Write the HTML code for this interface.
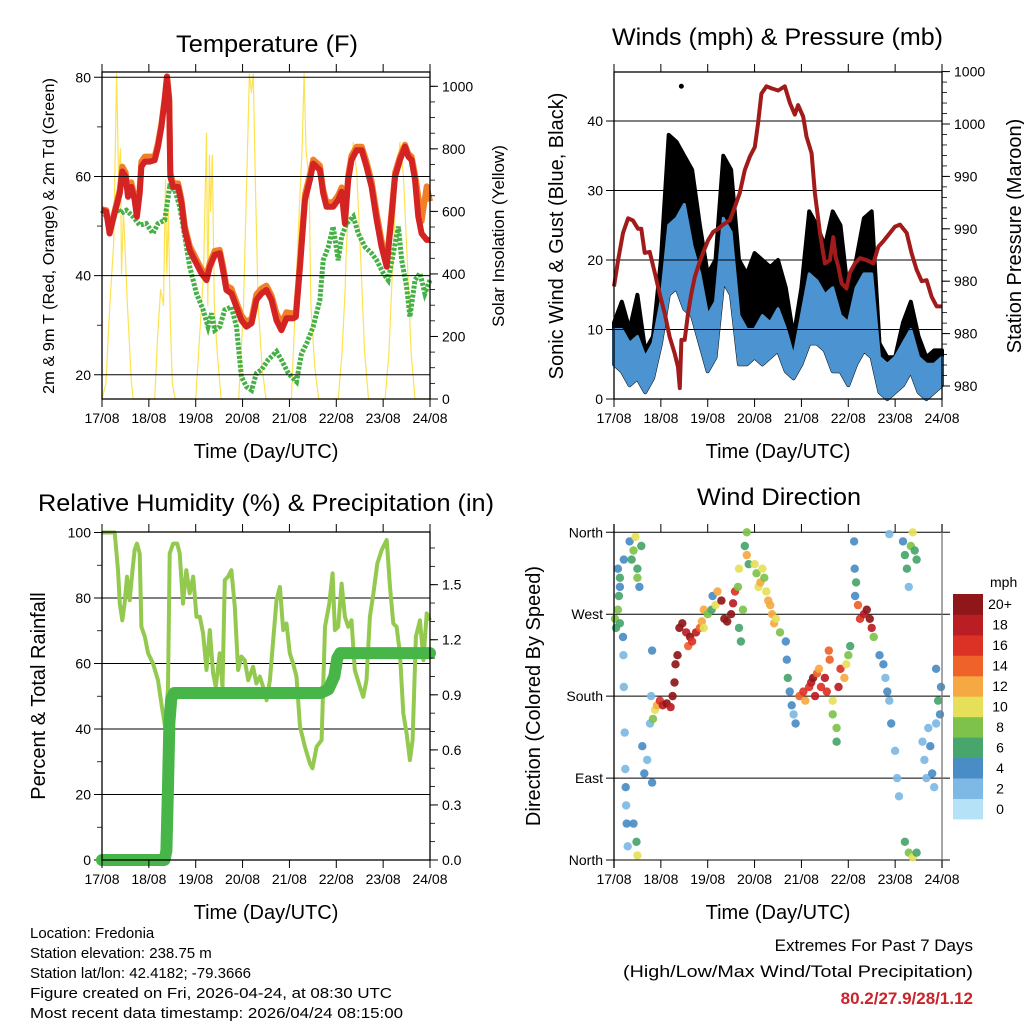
<!DOCTYPE html>
<html><head><meta charset="utf-8"><style>
html,body{margin:0;padding:0;background:#fff;}
svg{display:block;font-family:"Liberation Sans",Arial,sans-serif;}
</style></head><body>
<svg id="chart" xmlns="http://www.w3.org/2000/svg" width="1024" height="1024" viewBox="0 0 1024 1024">
<rect x="0" y="0" width="1024" height="1024" fill="#fff"/>
<g id="layer"></g>
<text x="176" y="52" font-size="24" textLength="182" lengthAdjust="spacingAndGlyphs">Temperature (F)</text>
<text x="612" y="45" font-size="24" textLength="331" lengthAdjust="spacingAndGlyphs">Winds (mph) &amp; Pressure (mb)</text>
<text x="38" y="511" font-size="24" textLength="456" lengthAdjust="spacingAndGlyphs">Relative Humidity (%) &amp; Precipitation (in)</text>
<text x="697" y="505" font-size="24" textLength="164" lengthAdjust="spacingAndGlyphs">Wind Direction</text>

<text x="266" y="458" font-size="20" text-anchor="middle">Time (Day/UTC)</text>
<text x="778" y="458" font-size="20" text-anchor="middle">Time (Day/UTC)</text>
<text x="266" y="919" font-size="20" text-anchor="middle">Time (Day/UTC)</text>
<text x="778" y="919" font-size="20" text-anchor="middle">Time (Day/UTC)</text>

<text transform="translate(54,236) rotate(-90)" font-size="16" text-anchor="middle" textLength="316" lengthAdjust="spacingAndGlyphs">2m &amp; 9m T (Red, Orange) &amp; 2m Td (Green)</text>
<text transform="translate(504,236) rotate(-90)" font-size="17" text-anchor="middle">Solar Insolation (Yellow)</text>
<text transform="translate(563,236) rotate(-90)" font-size="20" text-anchor="middle">Sonic Wind &amp; Gust (Blue, Black)</text>
<text transform="translate(1021,236) rotate(-90)" font-size="20" text-anchor="middle">Station Pressure (Maroon)</text>
<text transform="translate(45,696) rotate(-90)" font-size="20" text-anchor="middle">Percent &amp; Total Rainfall</text>
<text transform="translate(540,696) rotate(-90)" font-size="20" text-anchor="middle">Direction (Colored By Speed)</text>

<g font-size="15">
<text x="30" y="938">Location: Fredonia</text>
<text x="30" y="958">Station elevation: 238.75 m</text>
<text x="30" y="978">Station lat/lon: 42.4182; -79.3666</text>
<text x="30" y="998" textLength="362" lengthAdjust="spacingAndGlyphs">Figure created on Fri, 2026-04-24, at 08:30 UTC</text>
<text x="30" y="1018" textLength="373" lengthAdjust="spacingAndGlyphs">Most recent data timestamp: 2026/04/24 08:15:00</text>
</g>
<g font-size="17" text-anchor="end">
<text x="973" y="951">Extremes For Past 7 Days</text>
<text x="973" y="977" textLength="350" lengthAdjust="spacingAndGlyphs">(High/Low/Max Wind/Total Precipitation)</text>
<text x="973" y="1004" fill="#c8242b" font-weight="bold">80.2/27.9/28/1.12</text>
</g>
</svg>
<script>
// ---------- data ----------
const dayLabels = ["17/08","18/08","19/08","20/08","21/08","22/08","23/08","24/08"];
const tempHours = [0,2.2,3.9,5.6,7.3,9.1,10.4,12.1,13.3,15.0,16.7,17.9,19.3,20.2,21.9,24.4,27.0,28.7,30.4,32.1,33.3,34.4,35.0,36.4,39.0,40.7,42.4,44.9,47.5,50.9,53.5,55.2,57.8,60.3,62.0,63.7,66.3,68.9,71.4,74.0,76.6,79.1,81.7,84.2,86.8,89.4,91.9,94.5,98.0,99.3,101.4,104.0,106.5,108.2,111.6,113.3,115.0,118.4,121.0,122.7,124.4,126.1,127.8,130.4,133.0,135.5,138.1,140.7,143.2,145.8,148.3,150.1,152.6,155.2,156.9,158.6,160.3,162.0,163.7,166.3,168];
const tempRed = [53.2,52.9,48.5,51.2,53.9,56.6,61.0,60.0,55.9,57.9,55.3,51.9,56.6,62.0,63.0,63.0,63.3,66.0,70.0,75.4,80.1,75.4,60.0,57.9,57.9,54.6,49.2,45.2,43.1,40.5,39.1,41.8,44.2,44.5,41.1,37.1,36.4,33.7,31.0,29.7,30.4,35.1,36.4,37.1,35.1,31.0,29.0,31.4,31.4,31.7,41.8,55.3,59.3,62.6,61.3,56.6,53.9,53.9,55.3,56.9,50.5,59.3,63.3,65.3,65.3,62.0,57.9,51.2,45.8,41.8,51.9,60.0,63.3,66.0,64.0,63.3,59.3,51.9,48.5,47.2,47.2];
const tempOrange = [53.4,53.2,48.9,51.6,54.4,57.4,62.0,60.8,56.8,58.8,56.0,52.6,57.6,63.0,64.0,64.0,64.0,66.8,70.6,75.8,80.2,75.8,60.8,58.6,58.6,55.4,50.0,46.0,44.0,41.4,40.0,42.6,45.0,45.2,42.0,38.0,37.4,34.6,32.0,30.6,31.4,36.2,37.4,38.0,36.0,32.4,30.4,32.6,32.4,32.6,43.0,56.4,60.4,63.4,62.2,57.4,54.8,54.8,56.2,57.8,51.6,60.2,64.2,66.0,66.0,63.0,59.0,52.6,47.0,42.8,52.8,60.8,64.0,66.4,64.6,64.0,60.4,56.0,51.0,58.0,55.0];
const dewHours = [0,2.2,3.9,5.6,7.3,9.9,12.5,15.9,19.3,22.7,26.1,28.7,32.1,34.7,37.3,39.8,42.4,44.9,48.4,51.8,54.3,56.1,57.8,60.3,62.9,66.3,68.9,71.4,74.0,76.6,79.1,81.7,85.1,89.4,91.9,95.4,99.6,102.2,104.8,108.2,111.6,113.3,115.9,118.4,121.0,122.7,125.3,128.7,131.3,134.7,138.1,140.7,144.1,146.6,149.2,151.8,153.5,156.0,157.7,160.3,162.9,165.4,168];
const dewPoint = [53.2,51.9,49.2,51.9,53.9,52.6,53.2,51.9,50.2,50.5,48.5,50.5,51.2,57.9,57.3,53.9,47.9,41.8,36.4,33.1,29.7,32.4,29.0,29.7,33.1,33.7,29.7,19.6,17.6,16.9,20.3,21.0,23.0,24.7,23.0,20.3,18.6,24.3,26.3,29.7,35.1,43.1,45.8,49.9,43.1,47.9,50.5,51.9,48.5,45.8,44.5,43.1,40.5,39.1,44.5,49.9,43.1,37.8,31.7,39.1,40.5,36.4,39.1];
const solarHours = [0,2,4,6,7.5,8.5,9.5,10,11,13,15,16, 27,28.5,30,31.5,32.5,33.2,34,35,36,37.5, 48,50,52,53.5,54.2,55,55.6,56.5,57.5,59,61, 70,72.5,74.5,75.5,76.5,77.5,78.5,80,82,84, 97,99,101,102.5,103.5,104.5,106,107,109,111, 121,123,124.5,125,127,128.7,130.5,132.5,134.5,136.5, 145,147,149,151,152.6,154.3,156.3,158.3,160.3,168];
const solarValues = [0,50,300,500,1040,700,800,400,600,300,60,0, 0,200,350,300,700,400,600,250,50,0, 0,200,400,850,300,780,600,780,300,150,0, 0,300,800,1040,980,1040,700,300,100,0, 0,300,600,800,1040,800,700,300,100,0, 0,150,350,450,720,820,720,450,150,0, 0,150,450,720,820,720,450,150,0,0];
const windHours = [0,4,8,12,16,20,24,28,32,36,40,44,48,52,56,60,64,68,72,76,80,84,88,92,96,100,104,108,112,116,120,124,128,132,136,140,144,148,152,156,160,164,168];
const windLow  = [5,4,2,3,1,3,8,15,16,13,12,8,4,6,17,15,5,5,6,5,6,7,4,3,5,8,8,7,4,4,2,5,7,6,1,0,1,2,4,1,0,1,2];
const windHigh = [10,10,8,9,6,8,14,25,26,28,22,18,12,14,26,24,12,10,10,12,11,13,10,6,12,18,17,15,16,12,11,16,18,18,6,5,6,8,10,6,5,5,6];
const gustHigh = [11,14,10,15,7,9,20,38,37,35,33,25,18,20,35,33,20,18,21,20,19,20,16,9,16,27,25,22,27,25,15,20,26,27,8,6,6,11,14,9,6,7,7];
const gustOutlierHour = [34.5];
const gustOutlierValue = [45];
const presHours = [0,2.1,4.6,7.2,9.7,12.3,14.0,15.7,18.3,20.9,23.4,26.0,28.5,31.1,32.8,33.7,34.5,36.2,37.9,39.6,41.4,43.1,45.6,48.2,50.8,53.3,55.9,59.3,61.9,64.4,67.0,69.6,72.1,73.8,75.5,78.1,80.7,84.1,87.5,90.1,92.6,94.3,96.9,98.6,101.2,102.9,105.5,108.0,110.6,112.3,113.5,114.9,116.6,119.1,120.8,123.4,126.0,129.4,132.8,135.4,137.9,141.3,143.9,146.5,149.9,152.4,155.0,157.6,160.1,162.7,165.3,168];
const presValues = [984.5,987.0,989.6,991.0,990.8,990.0,990.0,987.7,987.8,985.8,983.8,981.9,979.7,978.1,976.8,974.8,979.4,979.4,981.9,983.8,985.4,986.4,987.7,988.9,989.7,990.0,990.4,990.8,992.1,993.4,995.6,996.9,997.8,1000.1,1002.9,1003.6,1003.4,1003.2,1003.6,1002.0,1000.9,1001.8,1000.7,998.8,997.2,993.4,989.6,986.7,987.0,989.2,987.3,986.4,984.8,984.3,985.8,986.7,987.2,987.0,986.7,988.3,988.8,989.6,990.2,990.4,989.6,987.7,986.1,985.0,985.1,983.5,982.6,982.6];
const presTickValues = [975,980,985,990,995,1000,1005];
const presTickLabels = ["980","980","980","990","990","1000","1000"];
const rhHours = [0,6.5,8.2,9.1,10.4,11.6,12.8,14.2,15.6,16.7,17.9,19.3,20.2,21.9,23.6,26.1,28.7,30.4,32.6,33.8,34.7,36.4,38.5,39.8,41.5,43.2,44.9,46.7,48.4,50.1,51.8,53.5,55.2,56.9,58.3,60.3,61.7,62.9,64.6,66.3,68.0,69.7,71.4,73.1,74.9,77.4,79.1,80.8,82.5,84.3,86.0,87.7,89.4,91.1,92.8,94.5,96.2,97.9,99.6,101.4,103.9,106.5,107.8,109.9,112.5,114.2,116.4,118.1,119.3,121.0,122.7,124.4,126.1,127.8,129.5,132.1,133.8,135.5,137.2,139.0,141.0,143.2,145.8,147.5,149.2,150.9,152.6,154.3,156.0,157.7,159.1,160.8,162.9,164.6,166.3,168];
const rhValues = [100,100,88.5,78.3,73.2,78.3,86.5,79.3,88.5,94.6,96.6,93.6,71.2,68.2,63.1,60.0,54.9,47.8,39.7,52.9,93.6,96.6,96.6,93.6,78.3,88.5,81.4,86.5,74.3,74.3,69.2,58.0,70.2,57.0,52.9,63.1,52.9,85.5,86.5,88.5,77.3,58.0,62.1,61.0,54.9,59.0,53.9,56.0,52.9,48.8,54.9,67.1,79.3,83.4,70.2,72.2,63.1,60.0,56.0,40.7,34.6,29.5,28.0,34.6,36.6,71.2,78.3,87.5,70.2,71.2,84.4,74.3,71.2,73.2,58.0,52.9,49.8,54.9,74.3,81.4,90.5,94.6,97.7,83.4,72.2,71.2,63.1,44.8,38.7,30.5,36.6,68.2,73.2,61.0,75.3,73.2];
const precipHours = [0,32,33,33.8,34.5,35.5,37,112,116,119,120.5,122,168];
const precipValues = [0,0,0.05,0.4,0.75,0.88,0.91,0.91,0.93,1.0,1.10,1.127,1.127];
const dirHours = [0.5,1,2,3,2.5,3,2,3,5,4.6,4.8,5,5.5,5.8,6,6.2,6.5,7,8,9,10,11,12,13,14,12,10,12,11.5,14.5,15.5,17,18.5,19.5,19,19.5,20,21,22,23.5,25,27,29,30,31,31.5,32.5,33.5,35,37,38,39,40,42,44,45,46,46,48,50,50.5,52,53,55,56.5,58,60,61,62,63.5,64,65,66,64,67,68,69,68,72,73,74,75,76,77,78,79,80,81,82,83,85,88,88.5,89,90,91,93,92,95,97,98,100,101,102,103,104,105,106,108,109,110,110.5,112,112,114,114,115,116,118,119,120,121,123,123.3,123.5,124,125,126,128,129.5,131,132,133,136,138,139,140,141,142,144,145,146,141,148,149,150,152,153,154,155,151,149,151,153,155,158,159,160,161,162,163,164,165,165,166,167,167.5];
const dirValues = [265,255,275,260,290,310,320,300,330,245,225,190,140,100,80,60,40,15,350,330,340,355,320,300,345,310,40,5,20,125,95,110,150,85,180,230,155,165,170,175,170,172,168,180,195,215,225,255,260,250,235,245,240,250,255,262,255,275,270,275,290,280,295,285,265,262,270,282,295,300,255,240,275,320,345,335,325,360,325,315,300,305,320,310,295,285,280,270,260,265,250,240,220,200,185,170,150,160,180,185,175,190,195,200,180,205,210,190,200,185,230,220,175,160,130,145,190,210,200,215,225,235,350,320,290,305,280,265,270,275,265,255,245,225,215,200,185,175,150,120,90,70,358,350,335,320,345,360,340,330,300,20,8,3,8,130,110,90,145,125,95,80,150,210,175,160,190];
const dirSpeed = [8,6,9,7,6,6,4,4,4,4,2,2,2,2,4,2,4,3,4,6,8,10,6,4,7,8,4,10,6,4,4,2,2,4,2,4,8,10,12,16,18,20,18,20,20,20,20,20,20,18,14,20,16,18,14,12,10,12,8,6,4,10,12,20,20,20,20,18,16,8,6,6,8,10,6,12,6,8,10,8,10,12,10,8,10,12,12,12,12,10,8,4,4,6,4,4,4,2,14,16,12,16,18,20,18,14,12,16,18,16,14,14,10,8,6,8,18,16,12,10,8,6,4,4,4,6,14,16,18,20,20,18,8,4,4,2,4,2,4,2,2,2,2,4,6,6,8,10,6,6,2,6,8,10,6,2,2,2,2,4,4,2,2,4,6,4,4];
const speedBins = ["0","2","4","6","8","10","12","14","16","18","20+"];
const speedColors = ["#b5e2f6","#7db9e4","#4a8dc6","#48a56b","#7ec24b","#e6df59","#f6a942","#ef6229","#dc3226","#bb1d24","#8f1719"];

// ---------- helpers ----------
const NS = "http://www.w3.org/2000/svg";
const layer = document.getElementById("layer");
function mk(tag, attrs, parent) {
  const e = document.createElementNS(NS, tag);
  for (const k in attrs) e.setAttribute(k, attrs[k]);
  (parent || layer).appendChild(e);
  return e;
}
function txt(x, y, s, size, anchor, parent) {
  const t = mk("text", {x: x, y: y, "font-size": size, "text-anchor": anchor}, parent);
  t.textContent = s;
  return t;
}
function pathFrom(xs, ys, fx, fy) {
  let d = "";
  for (let i = 0; i < xs.length; i++) d += (i ? "L" : "M") + fx(xs[i]).toFixed(1) + "," + fy(ys[i]).toFixed(1);
  return d;
}
function frame(p, name) {
  const g = mk("g", {});
  
  
  mk("rect", {x: p.x0, y: p.y0, width: p.x1 - p.x0, height: p.y1 - p.y0, fill: "none", stroke: "#000", "stroke-width": 1.3}, g);
  for (let d = 0; d <= 7; d++) {
    const x = p.x0 + d * (p.x1 - p.x0) / 7;
    mk("line", {x1: x, x2: x, y1: p.y0 - 8, y2: p.y0, stroke: "#000", "stroke-width": 1}, g);
    mk("line", {x1: x, x2: x, y1: p.y1, y2: p.y1 + 8, stroke: "#000", "stroke-width": 1}, g);
    const t = txt(x, p.y1 + 24, dayLabels[d], 14, "middle", g);
    
    
  }
  return g;
}
function leftAxis(p, ticks, labels, fy, minors, grid, fs) {
  const g = mk("g", {});
  
  
  ticks.forEach((v, i) => {
    const y = fy(v);
    if (grid[i]) mk("line", {x1: p.x0 - 8, x2: p.x1, y1: y, y2: y, stroke: "#000", "stroke-width": 1}, g);
    else mk("line", {x1: p.x0 - 8, x2: p.x0, y1: y, y2: y, stroke: "#000", "stroke-width": 1}, g);
    const t = txt(p.x0 - 11, y + 5, labels[i], fs || 14, "end", g);
    
    
  });
  minors.forEach(v => { const y = fy(v); mk("line", {x1: p.x0 - 5, x2: p.x0, y1: y, y2: y, stroke: "#000", "stroke-width": 0.8}, g); });
}
function rightAxis(p, ticks, labels, fy, minors) {
  const g = mk("g", {});
  
  
  ticks.forEach((v, i) => {
    const y = fy(v);
    mk("line", {x1: p.x1, x2: p.x1 + 8, y1: y, y2: y, stroke: "#000", "stroke-width": 1}, g);
    const t = txt(p.x1 + 12, y + 5, labels[i], 14, "start", g);
    
    
  });
  minors.forEach(v => { const y = fy(v); if (y >= p.y0 - 1) mk("line", {x1: p.x1, x2: p.x1 + 5, y1: y, y2: y, stroke: "#000", "stroke-width": 0.8}, g); });
}
function range(a, b, s) { const r = []; for (let v = a; v <= b + 1e-9; v += s) r.push(+v.toFixed(4)); return r; }

// ---------- Panel 1: temperature ----------
const P1 = {x0: 102, x1: 430, y0: 72, y1: 399};
const x1s = h => P1.x0 + h / 168 * (P1.x1 - P1.x0);
const yT = t => P1.y1 - (t - 15.12) / (81.07 - 15.12) * 327;
const yS = v => P1.y1 - v / 1000 * 312.7;
const solar = mk("path", {d: pathFrom(solarHours, solarValues, x1s, yS), fill: "none", stroke: "#fde24f", "stroke-width": 1.2, "stroke-linejoin": "round"});


const dew = mk("path", {d: pathFrom(dewHours, dewPoint, x1s, yT), fill: "none", stroke: "#45b045", "stroke-width": 5, "stroke-dasharray": "3 1.5"});


const org = mk("path", {d: pathFrom(tempHours, tempOrange, x1s, yT), fill: "none", stroke: "#f17f2a", "stroke-width": 6, "stroke-linejoin": "round"});


const red = mk("path", {d: pathFrom(tempHours, tempRed, x1s, yT), fill: "none", stroke: "#d42323", "stroke-width": 6, "stroke-linejoin": "round"});


frame(P1, "temperature-frame");
leftAxis(P1, [20, 40, 60, 80], ["20", "40", "60", "80"], yT, [30, 50, 70], [1, 1, 1, 1]);
rightAxis(P1, [0, 200, 400, 600, 800, 1000], ["0", "200", "400", "600", "800", "1000"], yS, range(50, 1000, 50));

// ---------- Panel 2: winds ----------
const P2 = {x0: 614, x1: 942, y0: 72, y1: 399};
const x2s = h => P2.x0 + h / 168 * (P2.x1 - P2.x0);
const yW = w => P2.y1 - w / 47.1 * 327.3;
const yP = p => 386 - (p - 975) / 5 * 52.4;
function band(hours, lo, hi, fx, fy) {
  let d = "M" + fx(hours[0]) + "," + fy(lo[0]);
  for (let i = 0; i < hours.length; i++) d += "L" + fx(hours[i]).toFixed(1) + "," + fy(hi[i]).toFixed(1);
  for (let i = hours.length - 1; i >= 0; i--) d += "L" + fx(hours[i]).toFixed(1) + "," + fy(lo[i]).toFixed(1);
  return d + "Z";
}
const gust = mk("path", {d: band(windHours, windLow, gustHigh, x2s, yW), fill: "#000", stroke: "#000", "stroke-width": 4, "stroke-linejoin": "round"});


gustOutlierHour.forEach((h, i) => {
  const c = mk("circle", {cx: x2s(h), cy: yW(gustOutlierValue[i]), r: 2.5, fill: "#000"});
  
  
});
const wnd = mk("path", {d: band(windHours, windLow, windHigh, x2s, yW), fill: "#4b93d1", stroke: "#4b93d1", "stroke-width": 3, "stroke-linejoin": "round"});


leftAxis(P2, [0, 10, 20, 30, 40], ["0", "10", "20", "30", "40"], yW, [], [0, 1, 1, 1, 1]);
const pres = mk("path", {d: pathFrom(presHours, presValues, x2s, yP), fill: "none", stroke: "#a11b1b", "stroke-width": 4, "stroke-linejoin": "round"});


frame(P2, "winds-frame");
rightAxis(P2, presTickValues, presTickLabels, yP, range(975, 1006, 1));

// ---------- Panel 3: humidity ----------
const P3 = {x0: 102, x1: 430, y0: 532, y1: 860};
const x3s = h => P3.x0 + h / 168 * (P3.x1 - P3.x0);
const yRH = r => P3.y1 - r / 100 * 327.5;
const yPr = v => P3.y1 - v / 1.787 * 328;
leftAxis(P3, [0, 20, 40, 60, 80, 100], ["0", "20", "40", "60", "80", "100"], yRH, [10, 30, 50, 70, 90], [0, 1, 1, 1, 1, 0]);
const rh = mk("path", {d: pathFrom(rhHours, rhValues, x3s, yRH), fill: "none", stroke: "#92c94e", "stroke-width": 4, "stroke-linejoin": "round"});


const pr = mk("path", {d: pathFrom(precipHours, precipValues, x3s, yPr), fill: "none", stroke: "#48b548", "stroke-width": 12, "stroke-linejoin": "round", "stroke-linecap": "round"});


frame(P3, "humidity-frame");
rightAxis(P3, [0, 0.3, 0.6, 0.9, 1.2, 1.5], ["0.0", "0.3", "0.6", "0.9", "1.2", "1.5"], yPr, range(0.1, 1.7, 0.1));

// ---------- Panel 4: wind direction ----------
const P4 = {x0: 614, x1: 942, y0: 532, y1: 860};
const x4s = h => P4.x0 + h / 168 * (P4.x1 - P4.x0);
const yD = d => P4.y1 - d / 360 * 327.7;
const dirTicks = [0, 90, 180, 270, 360];
const dirLabels = ["North", "East", "South", "West", "North"];
const gd = mk("g", {});


dirTicks.forEach((v, i) => {
  mk("line", {x1: P4.x0 - 8, x2: P4.x1 + 8, y1: yD(v), y2: yD(v), stroke: "#000", "stroke-width": 1}, gd);
  const t = txt(P4.x0 - 11, yD(v) + 5, dirLabels[i], 14, "end", gd);
  
  
});
function speedColor(s) { let i = Math.min(10, Math.floor(s / 2)); return speedColors[i]; }
dirHours.forEach((h, i) => {
  const c = mk("circle", {cx: x4s(h).toFixed(1), cy: yD(dirValues[i]).toFixed(1), r: 4.2, fill: speedColor(dirSpeed[i]), "fill-opacity": 0.92});
  
  
});
mk("line", {x1: P4.x0, x2: P4.x0, y1: P4.y0 - 8, y2: P4.y1 + 8, stroke: "#000", "stroke-width": 1.3});
mk("line", {x1: P4.x1, x2: P4.x1, y1: P4.y0 - 8, y2: P4.y1 + 8, stroke: "#777", "stroke-width": 1.3});
for (let d = 0; d <= 7; d++) {
  const x = P4.x0 + d * (P4.x1 - P4.x0) / 7;
  mk("line", {x1: x, x2: x, y1: P4.y0 - 8, y2: P4.y0, stroke: "#000"});
  mk("line", {x1: x, x2: x, y1: P4.y1, y2: P4.y1 + 8, stroke: "#000"});
  const t = txt(x, P4.y1 + 24, dayLabels[d], 14, "middle");
  
  
}
const cb = mk("g", {});


const cbTop = 594, cbH = 225 / 11;
const mphT = txt(990, 587, "mph", 14, "start", cb);


speedBins.forEach((lab, i) => {
  const k = speedBins.length - 1 - i;
  const y = cbTop + k * cbH;
  const r = mk("rect", {x: 953, y: y.toFixed(1), width: 30, height: (cbH + 0.4).toFixed(1), fill: speedColors[i]}, cb);
  
  
  const t = txt(1000, y + cbH / 2 + 5, lab, 14, "middle", cb);
  
  
});
</script>
</body></html>
